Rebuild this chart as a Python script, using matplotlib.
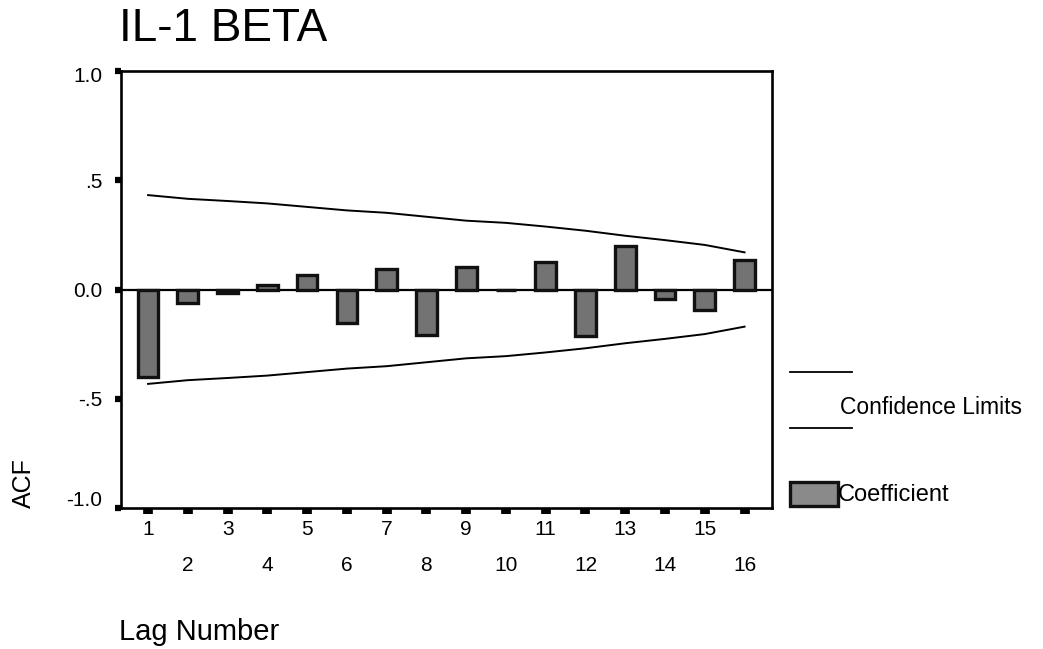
import matplotlib.pyplot as plt
from matplotlib.lines import Line2D
from matplotlib.patches import Rectangle
import matplotlib.transforms as mtransforms
import numpy as np

# ACF values
lags = list(range(1, 17))
acf = [-0.40, -0.06, -0.015, 0.022, 0.066, -0.155, 0.094, -0.207,
       0.101, 0.0, 0.128, -0.211, 0.20, -0.042, -0.093, 0.137]
conf_upper = [0.432, 0.415, 0.405, 0.394, 0.378, 0.362, 0.351, 0.333,
              0.315, 0.305, 0.288, 0.269, 0.246, 0.226, 0.204, 0.170]
conf_lower = [-c for c in conf_upper]
ytick_vals = [-1.0, -0.5, 0.0, 0.5, 1.0]
ytick_labels = ["-1.0", "-.5", "0.0", ".5", "1.0"]

plt.rcParams['font.family'] = ['Liberation Sans', 'DejaVu Sans']

W, H = 1043, 649
fig = plt.figure(figsize=(W / 100, H / 100), dpi=100)
ax = fig.add_axes([121 / W, 1 - 508 / H, (772 - 121) / W, (508 - 71) / H])


def px(x, y):
    # pixel position -> figure fraction
    return x / W, 1 - y / H


# bars
ax.bar(lags, acf, width=0.52, color='#737373', edgecolor='#111111',
       linewidth=2.4, zorder=3)
ax.axhline(0, color='black', lw=1.6, zorder=2)

# confidence limits
ax.plot(lags, conf_upper, color='black', lw=1.4, zorder=2)
ax.plot(lags, conf_lower, color='black', lw=1.4, zorder=2)

ax.set_xlim(0.32, 16.69)
ax.set_ylim(-1.0, 1.0)

for s in ax.spines.values():
    s.set_linewidth(1.9)

ax.set_xticks(lags)
ax.set_xticklabels([str(l) for l in lags])
ax.set_yticks(ytick_vals)
ax.set_yticklabels(ytick_labels)
ax.tick_params(axis='x', direction='out', length=4.5, width=7,
               labelsize=15, pad=4)
ax.tick_params(axis='y', direction='out', length=4.5, width=4.5,
               labelsize=15, pad=9)

# staggered x labels: even lags on second row
for i, t in enumerate(ax.xaxis.get_major_ticks()):
    if lags[i] % 2 == 0:
        t.set_pad(30)

# small nudges to y labels as in the original
shifts = {"-1.0": 9, "1.0": -4}
for lb in ax.get_yticklabels():
    dy = shifts.get(lb.get_text(), 0)
    if dy:
        lb.set_transform(lb.get_transform() +
                         mtransforms.ScaledTranslation(0, dy / 100, fig.dpi_scale_trans))

# title and axis labels
fig.text(*px(119, 29), "IL-1 BETA", fontsize=33, ha='left', va='center')
fig.text(*px(24, 483), "ACF", fontsize=18, rotation=90, ha='center', va='center')
fig.text(*px(119, 632), "Lag Number", fontsize=21, ha='left', va='center')

# legend drawn by hand
for yy in (372, 428):
    x0, y0 = px(790, yy)
    x1, _ = px(852, yy)
    fig.add_artist(Line2D([x0, x1], [y0, y0], color='black', lw=1.3,
                          transform=fig.transFigure))
fig.text(*px(840, 408), "Confidence Limits", fontsize=16.5, ha='left', va='center')

rx, ry = px(790, 506)
fig.add_artist(Rectangle((rx, ry), 48 / W, 24 / H, facecolor='#8a8a8a',
                         edgecolor='#111111', linewidth=2.4,
                         transform=fig.transFigure))
fig.text(*px(838, 495), "Coefficient", fontsize=17, ha='left', va='center')

fig.savefig("out.png", dpi=100)
